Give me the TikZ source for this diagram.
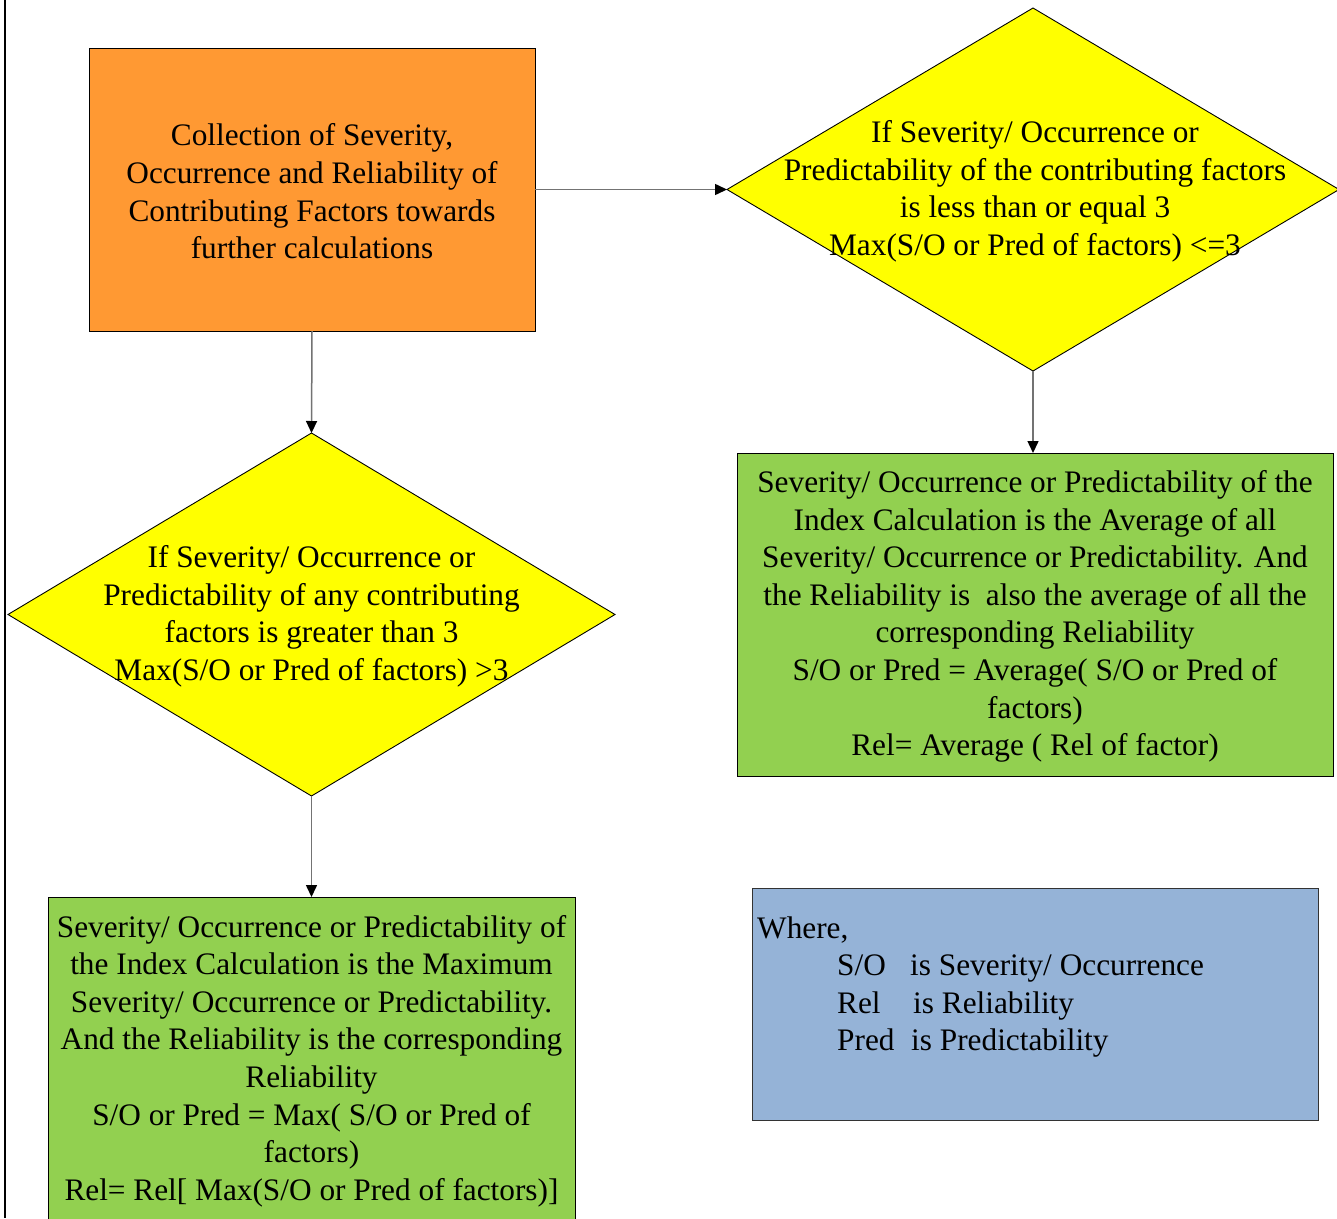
\documentclass[tikz,border=0pt]{standalone}
\usepackage{fontspec}
\setmainfont{Liberation Serif}
\usetikzlibrary{shapes.geometric,arrows.meta}

\definecolor{boxorange}{HTML}{FF9933}
\definecolor{boxyellow}{HTML}{FFFF00}
\definecolor{boxgreen}{HTML}{92D050}
\definecolor{boxblue}{HTML}{95B3D7}

\tikzset{
  txt/.style={font=\fontsize{31.3}{37.6}\selectfont, align=center, inner sep=0pt},
  procbox/.style={draw=black, line width=0.9pt, rectangle, inner sep=0pt, outer sep=0pt},
  decision/.style={draw=black, line width=0.9pt, diamond, fill=boxyellow, inner sep=0pt, outer sep=0pt},
  flow/.style={draw=black!55, line width=1.5pt, -{Triangle[length=12pt,width=11pt,black]}},
}

\begin{document}
\begin{tikzpicture}[x=1pt,y=-1pt]
  \clip (0,0) rectangle (1337,1218);
  \fill[white] (0,0) rectangle (1337,1218);

  % left margin rule
  \draw[line width=2pt] (5,0) -- (5,1218);

  % collection step
  \node[procbox, fill=boxorange, minimum width=446, minimum height=283] (collect) at (312,189.5) {};
  \node[txt] (collectT) at (312,191.5) {Collection of Severity,\\Occurrence and Reliability of\\Contributing Factors towards\\further calculations};

  % decision: all factors at most 3
  \node[decision, minimum width=612, minimum height=363] (lowdec) at (1033,189.5) {};
  \node[txt] (lowdecT) at (1035,191.5) {If Severity/ Occurrence or\\Predictability of the contributing factors\\is less than or equal 3\\Max(S/O or Pred of factors) <=3};

  % decision: any factor above 3
  \node[decision, minimum width=607, minimum height=363] (highdec) at (311.5,614.5) {};
  \node[txt] (highdecT) at (311.5,616.5) {If Severity/ Occurrence or\\Predictability of any contributing\\factors is greater than 3\\Max(S/O or Pred of factors) >3};

  % average rule
  \node[procbox, fill=boxgreen, minimum width=596, minimum height=323] (avg) at (1035,614.5) {};
  \node[txt] (avgT) at (1035,616.5) {Severity/ Occurrence or Predictability of the\\Index Calculation is the Average of all\\Severity/ Occurrence or Predictability. And\\the Reliability is\ \ also the average of all the\\corresponding Reliability\\S/O or Pred = Average( S/O or Pred of\\factors)\\Rel= Average ( Rel of factor)};

  % maximum rule
  \node[procbox, fill=boxgreen, minimum width=527, minimum height=330] (maxr) at (311.5,1062) {};
  \node[txt] (maxrT) at (311.5,1061) {Severity/ Occurrence or Predictability of\\the Index Calculation is the Maximum\\Severity/ Occurrence or Predictability.\\And the Reliability is the corresponding\\Reliability\\S/O or Pred = Max( S/O or Pred of\\factors)\\Rel= Rel[ Max(S/O or Pred of factors)]};

  % legend
  \node[procbox, draw=black!80, fill=boxblue, minimum width=566, minimum height=232] (legend) at (1035,1004) {};
  \node[txt, align=left, anchor=west] (legendT) at (757,987) {Where,\\
    \hspace*{80pt}\makebox[73pt][l]{S/O}is Severity/ Occurrence\\
    \hspace*{80pt}\makebox[76pt][l]{Rel}is Reliability\\
    \hspace*{80pt}\makebox[74pt][l]{Pred}is Predictability};

  % connectors
  \draw[flow] (collect.east) -- (lowdec.west);
  \draw[flow] (collect.south) -- (highdec.north);
  \draw[flow] (lowdec.south) -- (avg.north -| lowdec.south);
  \draw[flow] (highdec.south) -- (maxr.north);
\end{tikzpicture}
\end{document}
